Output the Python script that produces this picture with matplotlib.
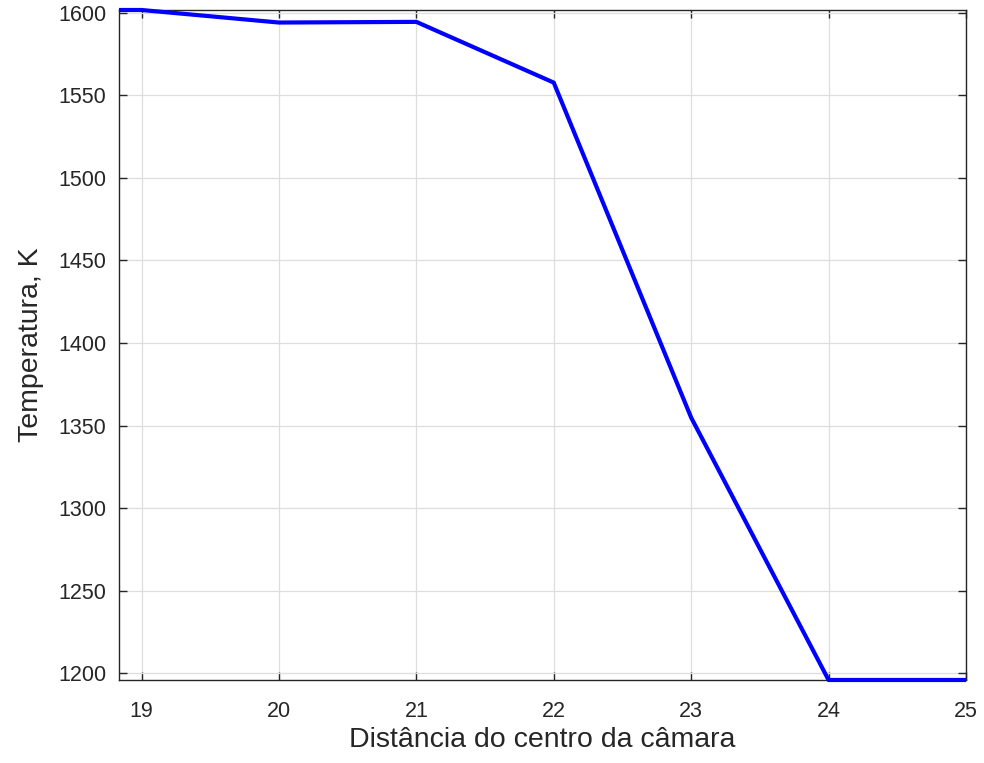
import matplotlib
matplotlib.use("Agg")
import matplotlib.pyplot as plt

distancia = [18.836, 19, 20, 21, 22, 23, 24, 25]
temperatura = [1601.8, 1601.8, 1594.2, 1594.6, 1557.8, 1354.8, 1195.8, 1195.8]
xticks = [19, 20, 21, 22, 23, 24, 25]
yticks = [1200, 1250, 1300, 1350, 1400, 1450, 1500, 1550, 1600]

plt.rcParams['font.family'] = ['Liberation Sans', 'DejaVu Sans']
fig = plt.figure(figsize=(9.84, 7.63), dpi=100)
ax = fig.add_axes([0.1209, 0.1088, 0.9817 - 0.1209, 0.9869 - 0.1088])
ax.plot(distancia, temperatura, color='#0000ff', linewidth=3.0,
        solid_joinstyle='round', solid_capstyle='butt', clip_on=False, zorder=5)
ax.set_xlim(18.836, 25)
ax.set_ylim(1195.8, 1601.8)
ax.set_xticks(xticks)
ax.set_yticks(yticks)
ax.grid(True, color='#dedede', linewidth=0.9)
ax.set_axisbelow(True)
ax.tick_params(direction='in', top=True, right=True, labelsize=15.5,
               colors='#262626', length=6, width=1)
ax.tick_params(axis='x', pad=15)
ax.tick_params(axis='y', pad=9)
for s in ax.spines.values():
    s.set_color('#262626')
    s.set_linewidth(1.0)
ax.set_xlabel('Distância do centro da câmara', fontsize=20.5, color='#262626', labelpad=4)
ax.set_ylabel('Temperatura, K', fontsize=20.5, color='#262626', labelpad=10)
fig.savefig('out.png', dpi=100)
